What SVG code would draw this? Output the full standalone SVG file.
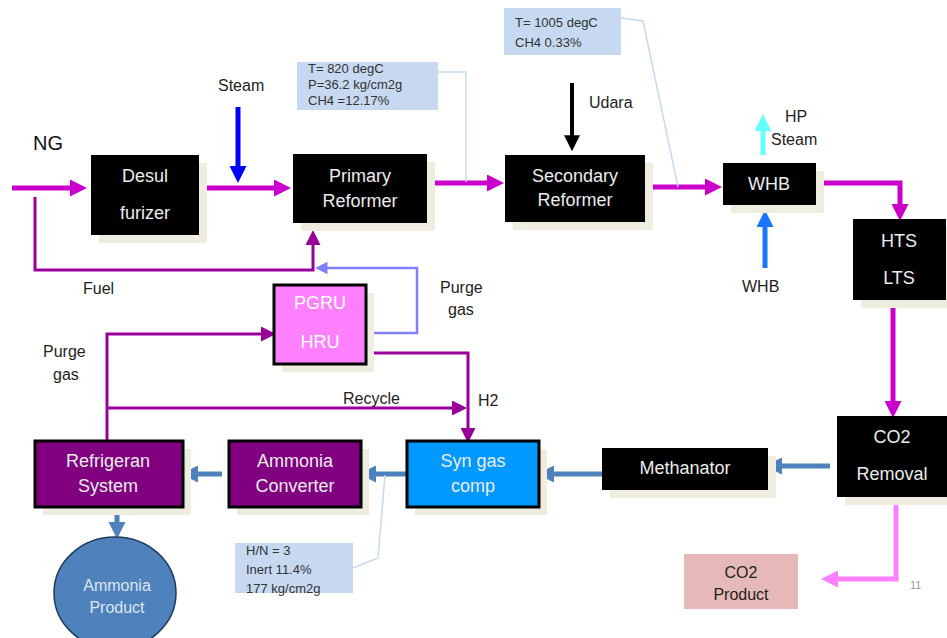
<svg xmlns="http://www.w3.org/2000/svg" width="947" height="638" viewBox="0 0 947 638">
<style>
text{font-family:"Liberation Sans",Arial,sans-serif}
.bt{fill:#ececec;font-size:18px;text-anchor:middle}
.lb{fill:#222;font-size:16px}
.co{fill:#333;font-size:13px}
.shadow{fill:#efede0}
.blk{fill:#000}
.mag{stroke:#cc00cc;stroke-width:5;fill:none}
.pur{stroke:#990099;stroke-width:3;fill:none}
.stb{stroke:#4f81bd;stroke-width:5;fill:none}
.lead{stroke:#c5d9f1;stroke-width:1.5;fill:none}
.call{fill:#c6d9f1}
</style>
<defs>
<marker id="mMag" markerWidth="3.4" markerHeight="3.4" refX="2" refY="1.7" orient="auto" markerUnits="strokeWidth"><path d="M0,0 L3.4,1.7 L0,3.4 Z" fill="#cc00cc"/></marker>
<marker id="mPur" markerWidth="5" markerHeight="5" refX="3" refY="2.5" orient="auto" markerUnits="strokeWidth"><path d="M0,0 L5,2.5 L0,5 Z" fill="#990099"/></marker>
<marker id="mBlue" markerWidth="3.4" markerHeight="3.4" refX="2" refY="1.7" orient="auto" markerUnits="strokeWidth"><path d="M0,0 L3.4,1.7 L0,3.4 Z" fill="#0000ff"/></marker>
<marker id="mBlk" markerWidth="4" markerHeight="4" refX="2.2" refY="2" orient="auto" markerUnits="strokeWidth"><path d="M0,0 L4,2 L0,4 Z" fill="#000"/></marker>
<marker id="mCyan" markerWidth="3.4" markerHeight="3.4" refX="2" refY="1.7" orient="auto" markerUnits="strokeWidth"><path d="M0,0 L3.4,1.7 L0,3.4 Z" fill="#66ffff"/></marker>
<marker id="mAz" markerWidth="3.4" markerHeight="3.4" refX="2" refY="1.7" orient="auto" markerUnits="strokeWidth"><path d="M0,0 L3.4,1.7 L0,3.4 Z" fill="#1a75ff"/></marker>
<marker id="mSt" markerWidth="3.4" markerHeight="3.4" refX="2" refY="1.7" orient="auto" markerUnits="strokeWidth"><path d="M0,0 L3.4,1.7 L0,3.4 Z" fill="#4f81bd"/></marker>
<marker id="mPk" markerWidth="3.4" markerHeight="3.4" refX="2" refY="1.7" orient="auto" markerUnits="strokeWidth"><path d="M0,0 L3.4,1.7 L0,3.4 Z" fill="#ff80ff"/></marker>
<marker id="mLb" markerWidth="5" markerHeight="5" refX="3" refY="2.5" orient="auto" markerUnits="strokeWidth"><path d="M0,0 L5,2.5 L0,5 Z" fill="#8080ff"/></marker>
</defs>

<g id="connectors">
<path class="mag" d="M12,188 H80" marker-end="url(#mMag)"/>
<path class="mag" d="M205,188 H284" marker-end="url(#mMag)"/>
<path d="M238,107 V176" stroke="#0000ff" stroke-width="5" fill="none" marker-end="url(#mBlue)"/>
<path class="mag" d="M430,183 H497" marker-end="url(#mMag)"/>
<path d="M572,83 V144" stroke="#000" stroke-width="4" fill="none" marker-end="url(#mBlk)"/>
<path class="mag" d="M646,187 H715" marker-end="url(#mMag)"/>
<path d="M763,155 V121" stroke="#66ffff" stroke-width="5" fill="none" marker-end="url(#mCyan)"/>
<path d="M765,268 V217" stroke="#1a75ff" stroke-width="5" fill="none" marker-end="url(#mAz)"/>
<path class="mag" d="M816,183 H900 V214" marker-end="url(#mMag)"/>
<path class="mag" d="M893,300 V411" marker-end="url(#mMag)"/>
<path class="stb" d="M830,466 H772" marker-end="url(#mSt)"/>
<path class="stb" d="M602,474 H544" marker-end="url(#mSt)"/>
<path class="stb" d="M407,474 H366" marker-end="url(#mSt)"/>
<path class="stb" d="M222,474 H188" marker-end="url(#mSt)"/>
<path class="stb" d="M117,507 V532" marker-end="url(#mSt)"/>
<path d="M896,497 V579 H828" stroke="#ff80ff" stroke-width="5" fill="none" marker-end="url(#mPk)"/>
<path class="pur" d="M35,197 V270 H313 V236" marker-end="url(#mPur)"/>
<path d="M366,333 H417 V268 H320" stroke="#8080ff" stroke-width="2.5" fill="none" marker-end="url(#mLb)"/>
<path class="pur" d="M107,441 V334 H270" marker-end="url(#mPur)"/>
<path class="pur" d="M107,408 H461" marker-end="url(#mPur)"/>
<path class="pur" d="M367,353 H468 V437" marker-end="url(#mPur)"/>
<path class="lead" d="M438,72 H466 V182"/>
<path class="lead" d="M621,18 L643,21 L678,187"/>
<path class="lead" d="M353,568 L378,558 L385,475"/>
</g>

<g id="desulfurizer">
<rect class="shadow" x="99" y="163" width="108" height="80"/>
<rect class="blk" x="91" y="155" width="108" height="80"/>
<text class="bt" x="145" y="182">Desul</text>
<text class="bt" x="145" y="219">furizer</text>
</g>
<g id="primary-reformer">
<rect class="shadow" x="301" y="162" width="134" height="69"/>
<rect class="blk" x="293" y="154" width="134" height="69"/>
<text class="bt" x="360" y="182">Primary</text>
<text class="bt" x="360" y="207">Reformer</text>
</g>
<g id="secondary-reformer">
<rect class="shadow" x="513" y="163" width="140" height="67"/>
<rect class="blk" x="505" y="155" width="140" height="67"/>
<text class="bt" x="575" y="182">Secondary</text>
<text class="bt" x="575" y="206">Reformer</text>
</g>
<g id="whb">
<rect class="shadow" x="731" y="171" width="93" height="42"/>
<rect class="blk" x="723" y="163" width="93" height="42"/>
<text class="bt" x="769" y="190">WHB</text>
</g>
<g id="hts-lts">
<rect class="shadow" x="861" y="227" width="86" height="81"/>
<rect class="blk" x="853" y="219" width="93" height="81"/>
<text class="bt" x="899" y="247">HTS</text>
<text class="bt" x="899" y="284">LTS</text>
</g>
<g id="co2-removal">
<rect class="shadow" x="845" y="424" width="102" height="81"/>
<rect class="blk" x="837" y="416" width="110" height="81"/>
<text class="bt" x="892" y="443">CO2</text>
<text class="bt" x="892" y="480">Removal</text>
</g>
<g id="methanator">
<rect class="shadow" x="610" y="456" width="166" height="42"/>
<rect class="blk" x="602" y="448" width="166" height="42"/>
<text class="bt" x="685" y="474">Methanator</text>
</g>
<g id="syn-gas-comp">
<rect class="shadow" x="415" y="449" width="132" height="66"/>
<rect x="407" y="441" width="132" height="66" fill="#0099ff" stroke="#000" stroke-width="3"/>
<text class="bt" x="473" y="467">Syn gas</text>
<text class="bt" x="473" y="492">comp</text>
</g>
<g id="ammonia-converter">
<rect class="shadow" x="237" y="449" width="132" height="66"/>
<rect x="229" y="441" width="132" height="66" fill="#800080" stroke="#000" stroke-width="3"/>
<text class="bt" x="295" y="467">Ammonia</text>
<text class="bt" x="295" y="492">Converter</text>
</g>
<g id="refrigeran-system">
<rect class="shadow" x="43" y="449" width="148" height="66"/>
<rect x="35" y="441" width="148" height="66" fill="#800080" stroke="#000" stroke-width="3"/>
<text class="bt" x="108" y="467">Refrigeran</text>
<text class="bt" x="108" y="492">System</text>
</g>
<g id="pgru-hru">
<rect class="shadow" x="282" y="293" width="92" height="79"/>
<rect x="274" y="285" width="92" height="79" fill="#ff80ff" stroke="#000" stroke-width="3"/>
<text class="bt" x="320" y="309" style="fill:#fff">PGRU</text>
<text class="bt" x="320" y="348" style="fill:#fff">HRU</text>
</g>
<g id="ammonia-product">
<ellipse cx="115" cy="593" rx="61" ry="56" fill="#4f81bd" stroke="#1f3a5f" stroke-width="1.5"/>
<text class="bt" x="117" y="591" style="fill:#dce6f2;font-size:16px">Ammonia</text>
<text class="bt" x="117" y="613" style="fill:#dce6f2;font-size:16px">Product</text>
</g>
<g id="co2-product">
<rect x="684" y="554" width="114" height="55" fill="#e6b9b8"/>
<text class="bt" x="741" y="578" style="fill:#222;font-size:16px">CO2</text>
<text class="bt" x="741" y="600" style="fill:#222;font-size:16px">Product</text>
</g>
<g id="callout-primary">
<rect class="call" x="297" y="62" width="141" height="48"/>
<text class="co" x="308" y="73">T= 820 degC</text>
<text class="co" x="308" y="89">P=36.2 kg/cm2g</text>
<text class="co" x="308" y="105">CH4 =12.17%</text>
</g>
<g id="callout-secondary">
<rect class="call" x="504" y="8" width="117" height="47"/>
<text class="co" x="515" y="27">T= 1005 degC</text>
<text class="co" x="515" y="47">CH4 0.33%</text>
</g>
<g id="callout-syn">
<rect class="call" x="235" y="543" width="118" height="50"/>
<text class="co" x="246" y="555">H/N = 3</text>
<text class="co" x="246" y="574">Inert 11.4%</text>
<text class="co" x="246" y="593">177 kg/cm2g</text>
</g>
<g id="labels">
<text x="33" y="150" style="fill:#111;font-size:20px">NG</text>
<text class="lb" x="218" y="91">Steam</text>
<text class="lb" x="589" y="108">Udara</text>
<text class="lb" x="785" y="122">HP</text>
<text class="lb" x="771" y="145">Steam</text>
<text class="lb" x="742" y="292">WHB</text>
<text class="lb" x="83" y="294">Fuel</text>
<text class="lb" x="440" y="293">Purge</text>
<text class="lb" x="448" y="315">gas</text>
<text class="lb" x="43" y="357">Purge</text>
<text class="lb" x="53" y="380">gas</text>
<text class="lb" x="343" y="404">Recycle</text>
<text class="lb" x="478" y="406">H2</text>
<text x="910" y="589" style="fill:#999;font-size:11px">11</text>
</g>
</svg>
